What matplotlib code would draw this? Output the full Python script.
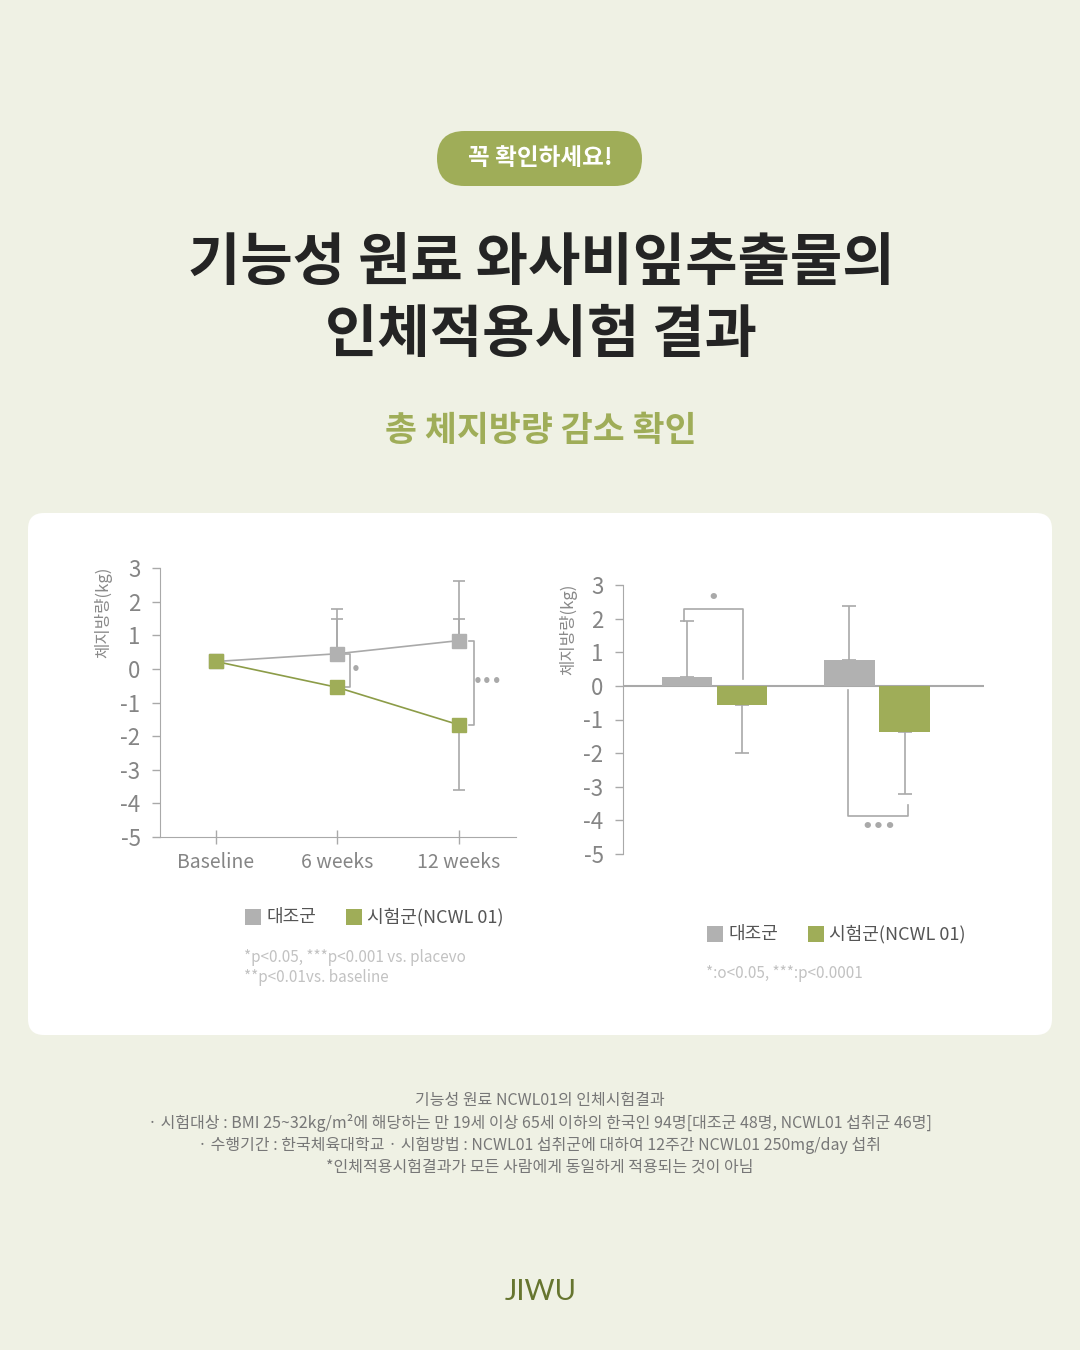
import numpy as np
import matplotlib.pyplot as plt
from matplotlib.patches import FancyBboxPatch

plt.rcParams['font.family'] = ['Noto Sans CJK KR', 'DejaVu Sans']

# ---- data ----
weeks = ['Baseline', '6 weeks', '12 weeks']
ctrl_line = [0.22, 0.45, 0.84]
test_line = [0.22, -0.55, -1.66]
ctrl_line_err = [0.0, 1.33, 1.76]       # upper error (control)
ctrl_line_err_inner = [0.0, 1.04, 0.65]  # inner cap
test_line_err = [0.0, 0.0, 1.94]        # lower error (test)

bar_groups = ['6 weeks', '12 weeks']
ctrl_bar = [0.26, 0.77]
test_bar = [-0.57, -1.37]
ctrl_bar_err = [1.67, 1.60]
test_bar_err = [1.43, 1.85]

yticks = [3, 2, 1, 0, -1, -2, -3, -4, -5]

BG = '#eff1e4'
GREEN = '#9fad58'
GREEN_LINE = '#8c9c48'
GRAY = '#b1b1b1'
GRAY_LINE = '#a9a9a9'
TICK = '#858585'

W, H = 1080, 1350
fig = plt.figure(figsize=(W / 100, H / 100), dpi=100)
fig.patch.set_facecolor(BG)

bg = fig.add_axes([0, 0, 1, 1])
bg.set_xlim(0, W)
bg.set_ylim(H, 0)
bg.axis('off')

# pill
bg.add_patch(FancyBboxPatch((437, 131), 205, 55, boxstyle='round,pad=0,rounding_size=27.5',
                            fc=GREEN, ec='none'))
bg.text(540, 158, '꼭 확인하세요!', ha='center', va='center', fontsize=17, fontweight='bold', color='white')

# titles
bg.text(541, 263, '기능성 원료 와사비잎추출물의', ha='center', va='center', fontsize=41,
        fontweight='bold', color='#242424')
bg.text(541, 335, '인체적용시험 결과', ha='center', va='center', fontsize=41,
        fontweight='bold', color='#242424')
bg.text(541, 430, '총 체지방량 감소 확인', ha='center', va='center', fontsize=25,
        fontweight='bold', color=GREEN)

# card
bg.add_patch(FancyBboxPatch((28, 513), 1024, 522, boxstyle='round,pad=0,rounding_size=16',
                            fc='white', ec='none'))


def px_axes(left, right, top, bottom):
    return fig.add_axes([left / W, 1 - bottom / H, (right - left) / W, (bottom - top) / H])


def style_y(ax):
    ax.set_ylim(-5, 3)
    ax.set_yticks(yticks)
    ax.set_yticklabels([str(t) for t in yticks])
    ax.tick_params(axis='y', direction='out', length=6, width=1, color=GRAY_LINE,
                   labelsize=16, labelcolor=TICK, pad=8)
    ax.spines['left'].set_color(GRAY_LINE)
    ax.spines['top'].set_visible(False)
    ax.spines['right'].set_visible(False)
    ax.patch.set_alpha(0)


# ---- left: line chart ----
ax1 = px_axes(160, 516, 568, 837)
x = np.arange(len(weeks))
ax1.set_xlim(-0.462, 2.474)
style_y(ax1)
ax1.spines['bottom'].set_color(GRAY_LINE)
ax1.set_xticks(x)
ax1.set_xticklabels(weeks)
ax1.tick_params(axis='x', direction='inout', length=10, width=1, color=GRAY_LINE,
                labelsize=14, labelcolor=TICK, pad=6)

ax1.errorbar(x[1:], ctrl_line[1:], yerr=[np.zeros(2), ctrl_line_err[1:]], fmt='none',
             ecolor=GRAY_LINE, elinewidth=1.2, capsize=4, capthick=1.2, zorder=2)
ax1.errorbar(x[1:], ctrl_line[1:], yerr=[np.zeros(2), ctrl_line_err_inner[1:]], fmt='none',
             ecolor=GRAY_LINE, elinewidth=1.2, capsize=4, capthick=1.2, zorder=2)
ax1.errorbar(x[2:], test_line[2:], yerr=[test_line_err[2:], [0]], fmt='none',
             ecolor=GRAY_LINE, elinewidth=1.2, capsize=4, capthick=1.2, zorder=2)
ax1.plot(x, ctrl_line, color=GRAY_LINE, lw=1.2, marker='s', ms=10, mfc=GRAY, mec=GRAY, zorder=3)
ax1.plot(x, test_line, color=GREEN_LINE, lw=1.2, marker='s', ms=10, mfc=GREEN, mec=GREEN, zorder=4)

# significance brackets
for xi, off, tx, lbl in [(1, 0.105, 0.155, '•'), (2, 0.128, 0.243, '•••')]:
    xb = xi + off
    ax1.plot([xb - 0.045, xb, xb, xb - 0.045], [ctrl_line[xi] - 0.02, ctrl_line[xi] - 0.02,
             test_line[xi], test_line[xi]], color=GRAY_LINE, lw=1.2, clip_on=False)
    ax1.text(xi + tx, (ctrl_line[xi] + test_line[xi]) / 2 + 0.02, lbl, ha='center',
             va='center', fontsize=11, fontweight='bold', color=GRAY_LINE, family=['DejaVu Sans'])

# ---- right: bar chart ----
ax2 = px_axes(623, 984, 585, 854)
g = np.arange(len(bar_groups))
ax2.set_xlim(-0.563, 1.658)
style_y(ax2)
ax2.spines['bottom'].set_visible(False)
ax2.set_xticks([])
ax2.axhline(0, color=GRAY_LINE, lw=1.5, zorder=1)
bw = 0.31
ax2.bar(g - 0.17, ctrl_bar, bw, color=GRAY, zorder=2)
ax2.bar(g + 0.17, test_bar, bw, color=GREEN, zorder=2)
ax2.errorbar(g - 0.17, ctrl_bar, yerr=[np.zeros(2), ctrl_bar_err], fmt='none', ecolor=GRAY_LINE,
             elinewidth=1.2, capsize=5, capthick=1.2, zorder=1.5)
ax2.errorbar(g + 0.17, test_bar, yerr=[test_bar_err, np.zeros(2)], fmt='none', ecolor=GRAY_LINE,
             elinewidth=1.2, capsize=5, capthick=1.2, zorder=1.5)

# bracket 6 weeks (above)
top1 = ctrl_bar[0] + ctrl_bar_err[0]
ax2.plot([g[0] - 0.19, g[0] - 0.19, g[0] + 0.175, g[0] + 0.175], [top1, 2.3, 2.3, 0.2],
         color=GRAY_LINE, lw=1.2)
ax2.text(g[0] - 0.01, 2.62, '•', ha='center', va='center', fontsize=13, fontweight='bold',
         color=GRAY_LINE, family=['DejaVu Sans'])
# bracket 12 weeks (below)
ax2.plot([g[1] - 0.18, g[1] - 0.18, g[1] + 0.19, g[1] + 0.19], [-0.13, -3.88, -3.88, -3.55],
         color=GRAY_LINE, lw=1.2)
ax2.text(g[1] + 0.012, -4.2, '•••', ha='center', va='center', fontsize=13, fontweight='bold',
         color=GRAY_LINE, family=['DejaVu Sans'])

# y labels
bg.text(103, 612, '체지방량(kg)', rotation=90, ha='center', va='center', fontsize=12, color='#8a8a8a')
bg.text(568, 629, '체지방량(kg)', rotation=90, ha='center', va='center', fontsize=12, color='#8a8a8a')

# legends
for (lx, ly) in [(245, 917), (707, 934)]:
    bg.add_patch(plt.Rectangle((lx, ly - 8), 16, 16, fc=GRAY, ec='none'))
    bg.text(lx + 21, ly, '대조군', ha='left', va='center', fontsize=13, color='#555555')
    bg.add_patch(plt.Rectangle((lx + 101, ly - 8), 16, 16, fc=GREEN, ec='none'))
    bg.text(lx + 122, ly, '시험군(NCWL 01)', ha='left', va='center', fontsize=13, color='#555555')

NOTE = '#c2c2c2'
bg.text(244, 958, '*p<0.05, ***p<0.001 vs. placevo', ha='left', va='center', fontsize=11, color=NOTE)
bg.text(244, 978, '**p<0.01vs. baseline', ha='left', va='center', fontsize=11, color=NOTE)
bg.text(706, 974, '*:o<0.05, ***:p<0.0001', ha='left', va='center', fontsize=11, color=NOTE)

# bottom notes
notes = [
    '기능성 원료 NCWL01의 인체시험결과',
    '· 시험대상 : BMI 25~32kg/m²에 해당하는 만 19세 이상 65세 이하의 한국인 94명[대조군 48명, NCWL01 섭취군 46명]',
    '· 수행기간 : 한국체육대학교 · 시험방법 : NCWL01 섭취군에 대하여 12주간 NCWL01 250mg/day 섭취',
    '*인체적용시험결과가 모든 사람에게 동일하게 적용되는 것이 아님',
]
for i, line in enumerate(notes):
    bg.text(540, 1101 + 22 * i, line, ha='center', va='center', fontsize=11.5, color='#777777')

bg.text(541, 1292, 'JIWU', ha='center', va='center', fontsize=21, color='#66752f',
        family=['Lato', 'DejaVu Sans'])

fig.savefig('out.png', dpi=100, facecolor=BG)
